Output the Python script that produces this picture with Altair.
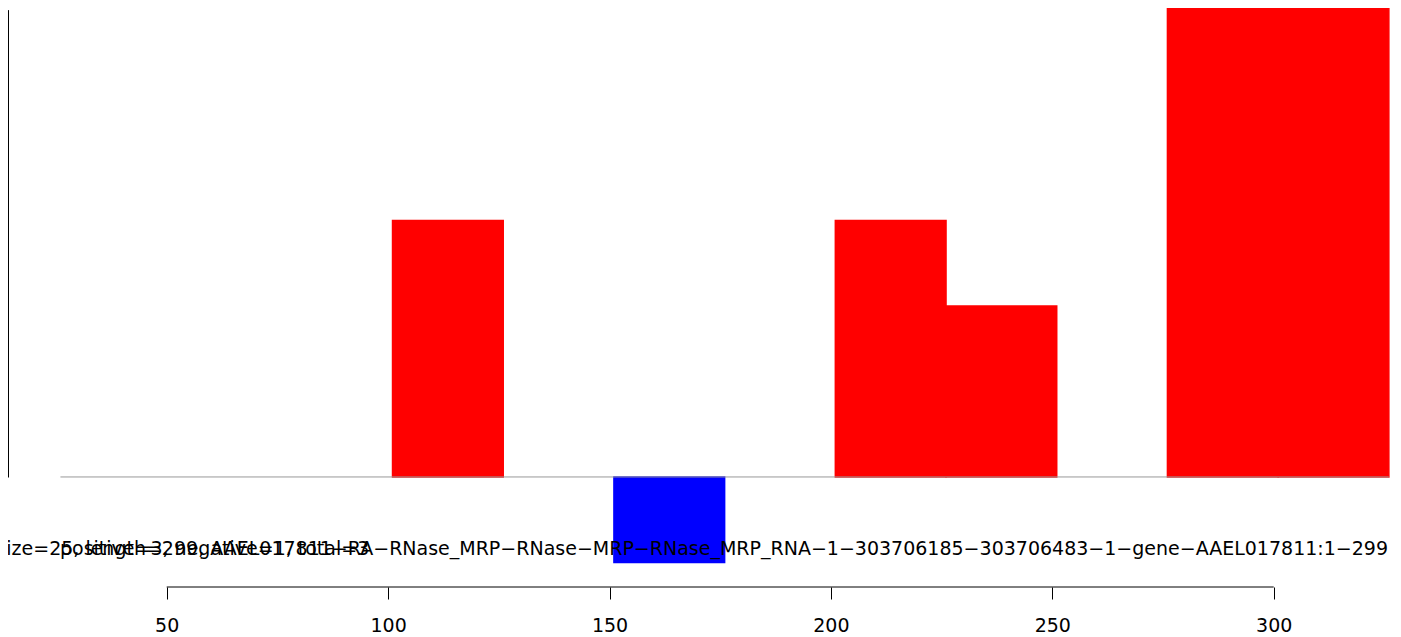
import altair as alt
import pandas as pd

# ---- data ----
bin_start = [26, 51, 76, 101, 126, 151, 176, 201, 226, 251, 276, 301]
bin_size = 25
counts = [0, 0, 0, 3, 0, -1, 0, 3, 2, 0, 6, 6]
x_ticks = [50, 100, 150, 200, 250, 300]
y_ticks = [0, 1.37, 2.73, 4.1, 5.46]
x_domain = [14.16, 326.94]
y_domain = [-1.287, 5.485]
title_main = ("size=25, length=299, AAEL017811−RA−RNase_MRP−RNase−MRP−RNase_MRP_RNA−1−"
              "303706185−303706483−1−gene−AAEL017811:1−299")
title_counts = "positive=3, negative=1, total=3"

df = pd.DataFrame({
    "start": bin_start,
    "end": [s + bin_size for s in bin_start],
    "count": counts,
})
df["strand"] = ["plus" if c > 0 else "minus" for c in counts]
df = df[df["count"] != 0]

xs = alt.Scale(domain=x_domain, nice=False, zero=False)
ys = alt.Scale(domain=y_domain, nice=False, zero=False)
cs = alt.Scale(domain=["plus", "minus"], range=["#FF0000", "#0000FF"])

FONT = "DejaVu Sans"

bars = alt.Chart(df).mark_rect(clip=True, strokeWidth=1.5, strokeOpacity=1).encode(
    x=alt.X("start:Q", scale=xs,
            axis=alt.Axis(values=x_ticks, domain=False, grid=False, tickSize=12,
                          tickColor="black", tickWidth=1, labelFont=FONT,
                          labelFontSize=19, labelColor="black", labelPadding=32,
                          labelBaseline="alphabetic", labelFlush=False,
                          labelOverlap=False, title=None)),
    x2="end:Q",
    y=alt.Y("count:Q", scale=ys,
            axis=alt.Axis(values=y_ticks, domain=False, grid=False, labels=False,
                          tickSize=7, tickColor="black", title=None)),
    y2=alt.datum(0),
    fill=alt.Fill("strand:N", scale=cs, legend=None),
    stroke=alt.Stroke("strand:N", scale=cs, legend=None),
)

base_df = pd.DataFrame({"x": [min(bin_start)], "x2": [max(bin_start) + bin_size], "y": [0]})
baseline = alt.Chart(base_df).mark_rule(color="#999999", strokeWidth=1).encode(
    x=alt.X("x:Q", scale=xs), x2="x2:Q", y=alt.Y("y:Q", scale=ys)
)

xaxis_df = pd.DataFrame({"x": [x_ticks[0]], "x2": [x_ticks[-1]], "y": [y_domain[0]]})
xaxis_line = alt.Chart(xaxis_df).mark_rule(color="black", strokeWidth=1).encode(
    x=alt.X("x:Q", scale=xs), x2="x2:Q", y=alt.Y("y:Q", scale=ys)
)

yaxis_df = pd.DataFrame({"x": [x_domain[0]], "y": [y_ticks[0]], "y2": [y_ticks[-1]]})
yaxis_line = alt.Chart(yaxis_df).mark_rule(color="black", strokeWidth=2).encode(
    x=alt.X("x:Q", scale=xs), y=alt.Y("y:Q", scale=ys), y2="y2:Q"
)

t1 = alt.Chart(pd.DataFrame({"t": [title_main]})).mark_text(
    align="right", baseline="alphabetic", font=FONT, fontSize=19, color="black"
).encode(text="t:N", x=alt.value(1380), y=alt.value(547))

t2 = alt.Chart(pd.DataFrame({"t": [title_counts]})).mark_text(
    align="left", baseline="alphabetic", font=FONT, fontSize=19, color="black"
).encode(text="t:N", x=alt.value(52), y=alt.value(547))

chart = alt.layer(bars, baseline, xaxis_line, yaxis_line, t1, t2).properties(
    width=1385, height=579,
    autosize=alt.AutoSizeParams(type="none"),
    padding={"left": 0, "top": 0, "right": 0, "bottom": 50},
).configure_view(stroke=None)

chart.save("out.html", embed_options={"renderer": "svg", "actions": False})
